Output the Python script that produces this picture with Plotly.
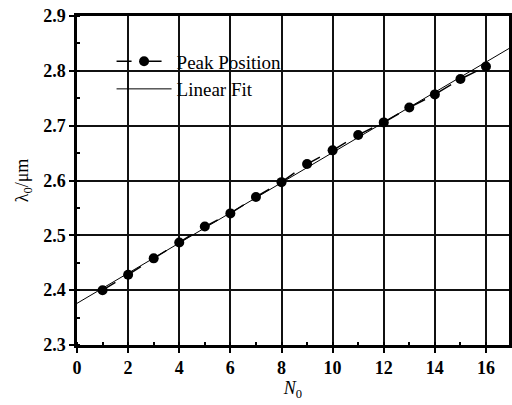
import plotly.graph_objects as go

n0 = [1, 2, 3, 4, 5, 6, 7, 8, 9, 10, 11, 12, 13, 14, 15, 16]
peak = [2.400, 2.428, 2.458, 2.487, 2.516, 2.540, 2.570, 2.597, 2.630, 2.655,
        2.683, 2.706, 2.733, 2.757, 2.785, 2.808]
fit_intercept = 2.376
fit_slope = 0.0275
fit_x = [0, 17]
fit_y = [fit_intercept + fit_slope * x for x in fit_x]

xticks = [0, 2, 4, 6, 8, 10, 12, 14, 16]
yticks = [2.3, 2.4, 2.5, 2.6, 2.7, 2.8, 2.9]

font = "Liberation Serif"

fig = go.Figure()
fig.add_trace(go.Scatter(
    x=n0, y=peak, mode="lines+markers", name="Peak Position",
    line=dict(color="black", width=1.5, dash="longdash"),
    marker=dict(color="black", size=10, symbol="circle")))
fig.add_trace(go.Scatter(
    x=fit_x, y=fit_y, mode="lines", name="Linear Fit",
    line=dict(color="black", width=1)))

axis_common = dict(
    showgrid=True, gridcolor="#111", gridwidth=1.5,
    showline=True, linecolor="black", linewidth=2.5, mirror=True,
    ticks="outside", ticklen=5, tickwidth=2, tickcolor="black",
    tickfont=dict(family=font, size=18, color="black", weight="bold"),
    zeroline=False,
)

fig.update_layout(
    width=512, height=405,
    margin=dict(l=77, r=0, t=16, b=60),
    paper_bgcolor="white", plot_bgcolor="white",
    font=dict(family=font, color="black"),
    showlegend=True,
    legend=dict(x=0.08, y=0.92, xanchor="left", yanchor="top",
                bgcolor="rgba(0,0,0,0)", font=dict(family=font, size=19, color="black"),
                itemwidth=55),
    xaxis=dict(range=[0, 16.9], tickvals=xticks, ticktext=[str(v) for v in xticks],
               minor=dict(ticks="inside", ticklen=3, tickwidth=2, tickcolor="black", dtick=1, tick0=0, showgrid=False),
               title=dict(text="<i>N</i><sub>0</sub>", font=dict(family=font, size=18, color="black"), standoff=2),
               **axis_common),
    yaxis=dict(range=[2.3, 2.9], tickvals=yticks, ticktext=[f"{v:.1f}" for v in yticks],
               minor=dict(ticks="inside", ticklen=3, tickwidth=2, tickcolor="black", dtick=0.05, tick0=2.3, showgrid=False),
               title=dict(text="λ<sub>0</sub>/μm", font=dict(family=font, size=18, color="black"), standoff=10),
               **axis_common),
)

fig.write_html("out.html")
